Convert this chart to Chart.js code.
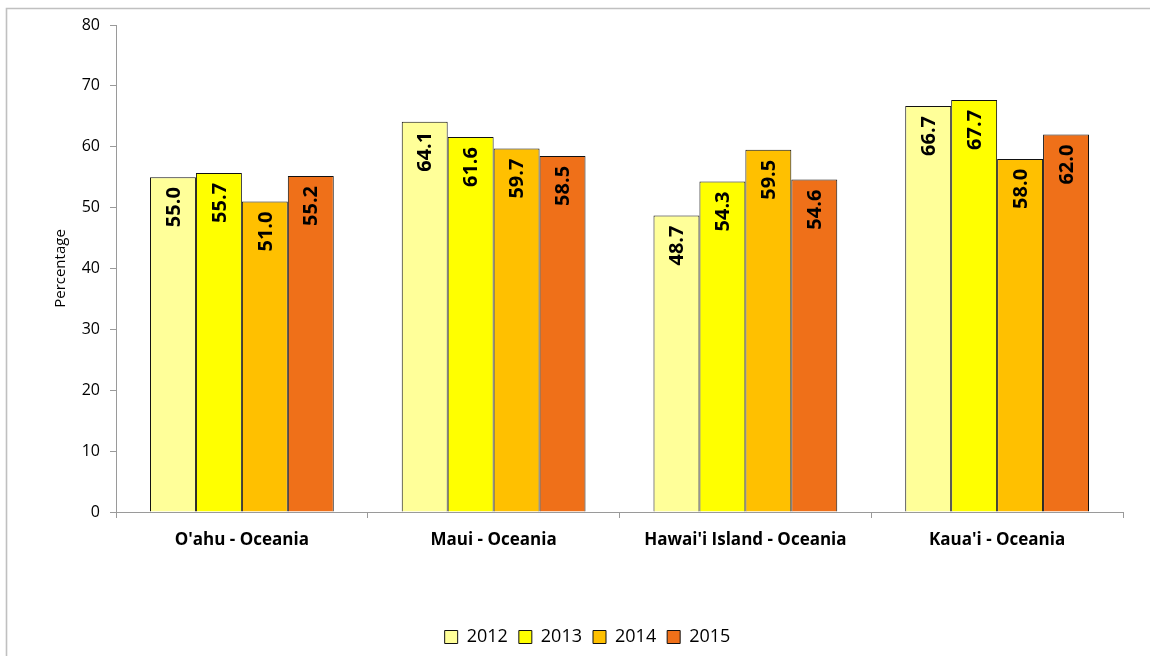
<!DOCTYPE html>
<html>
<head>
<meta charset="utf-8">
<title>Percentage by island, 2012-2015</title>
<script src="https://cdn.jsdelivr.net/npm/chart.js@4/dist/chart.umd.min.js"></script>
<style>
  html, body { margin: 0; padding: 0; background: #fff; }
</style>
</head>
<body>
<canvas id="islandChart" width="1150" height="656"></canvas>
<script>
const islands = ["O'ahu - Oceania", "Maui - Oceania", "Hawai'i Island - Oceania", "Kaua'i - Oceania"];
const years = ['2012', '2013', '2014', '2015'];
const values2012 = [55.0, 64.1, 48.7, 66.7];
const values2013 = [55.7, 61.6, 54.3, 67.7];
const values2014 = [51.0, 59.7, 59.5, 58.0];
const values2015 = [55.2, 58.5, 54.6, 62.0];
const yearColors = ['#FFFF99', '#FFFF00', '#FFC000', '#EF7019'];
const yMin = 0, yMax = 80, yStep = 10;

Chart.defaults.font.family = "'Open Sans', sans-serif";
Chart.defaults.color = '#000';

// thin grey frame along the top and left edge
const framePlugin = {
  id: 'frame',
  beforeDraw: function(chart) {
    var ctx = chart.ctx;
    ctx.save();
    ctx.strokeStyle = '#c0c0c0';
    ctx.lineWidth = 1.6;
    ctx.beginPath();
    ctx.moveTo(6.5, chart.height);
    ctx.lineTo(6.5, 8.5);
    ctx.lineTo(chart.width, 8.5);
    ctx.stroke();
    ctx.restore();
  }
};

// nudge the legend a little to the right of the default centre
const legendShiftPlugin = {
  id: 'legendShift',
  afterLayout: function(chart) {
    if (chart.legend) {
      chart.legend.left += 26;
      chart.legend.right += 26;
    }
  }
};

// rotated value labels just inside the top of each bar
const barValuesPlugin = {
  id: 'barValues',
  afterDatasetsDraw: function(chart) {
    var ctx = chart.ctx;
    ctx.save();
    ctx.font = "bold 20px 'Open Sans', sans-serif";
    ctx.fillStyle = '#000';
    ctx.textAlign = 'right';
    ctx.textBaseline = 'middle';
    chart.data.datasets.forEach(function(ds, i) {
      chart.getDatasetMeta(i).data.forEach(function(bar, j) {
        ctx.save();
        ctx.translate(bar.x + 1, bar.y + 10);
        ctx.rotate(-Math.PI / 2);
        ctx.fillText(ds.data[j].toFixed(1), 0, 0);
        ctx.restore();
      });
    });
    ctx.restore();
  }
};

var valueSets = [values2012, values2013, values2014, values2015];
var datasets = years.map(function(year, i) {
  return {
    label: year,
    data: valueSets[i],
    backgroundColor: yearColors[i],
    borderColor: '#111',
    borderWidth: 1,
    barPercentage: 1.0,
    categoryPercentage: 0.73
  };
});

var ctx = document.getElementById('islandChart').getContext('2d');
var chart = new Chart(ctx, {
  type: 'bar',
  data: {
    labels: islands,
    datasets: datasets
  },
  options: {
    responsive: false,
    animation: false,
    layout: {
      padding: { top: 25, right: 27, bottom: 0, left: 0 }
    },
    plugins: {
      tooltip: { enabled: false },
      legend: {
        position: 'bottom',
        labels: {
          boxWidth: 13,
          boxHeight: 13,
          padding: 11,
          font: { size: 18 },
          color: '#000'
        }
      }
    },
    scales: {
      x: {
        grid: {
          offset: true,
          drawOnChartArea: false,
          drawTicks: true,
          tickLength: 6,
          color: '#9a9a9a'
        },
        border: { color: '#9a9a9a' },
        ticks: {
          font: { size: 17, weight: 'bold' },
          color: '#000',
          padding: 12,
          maxRotation: 0
        },
        afterFit: function(scale) { scale.height = 105; }
      },
      y: {
        min: yMin,
        max: yMax,
        grid: {
          drawOnChartArea: false,
          drawTicks: true,
          tickLength: 6,
          color: '#9a9a9a'
        },
        border: { color: '#9a9a9a' },
        ticks: {
          stepSize: yStep,
          font: { size: 16 },
          color: '#000',
          padding: 10
        },
        title: {
          display: true,
          text: 'Percentage',
          font: { size: 15 },
          color: '#000',
          padding: { top: 52, bottom: 0 }
        },
        afterFit: function(scale) { scale.width = 116; }
      }
    }
  },
  plugins: [framePlugin, legendShiftPlugin, barValuesPlugin]
});
</script>
</body>
</html>
